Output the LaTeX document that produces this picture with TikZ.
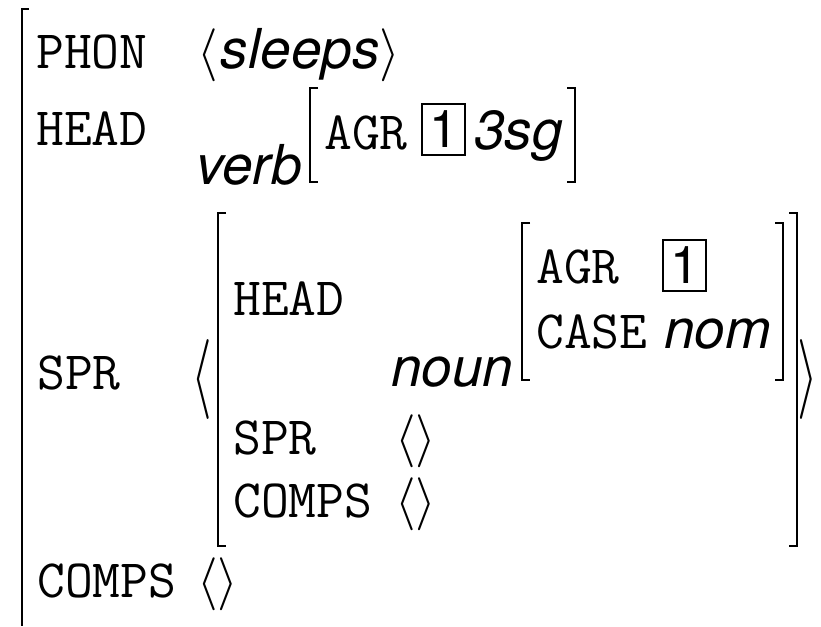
\documentclass[tikz,border=0pt]{standalone}
\usepackage{graphicx}
\usepackage{fontspec}
\newfontfamily\hv{TeX Gyre Heros}
\newcommand{\la}{\scalebox{5.3}{\fontsize{10}{12}\selectfont$\langle$}}
\newcommand{\ra}{\scalebox{5.3}{\fontsize{10}{12}\selectfont$\rangle$}}
\newcommand{\bla}{\scalebox{5.3}[8]{\fontsize{10}{12}\selectfont$\langle$}}
\newcommand{\bra}{\scalebox{5.3}[8]{\fontsize{10}{12}\selectfont$\rangle$}}
\tikzset{
  tt/.style={anchor=base west, inner sep=0pt, font=\fontsize{54}{60}\selectfont\ttfamily},
  sv/.style={anchor=base west, inner sep=0pt, font=\fontsize{55}{60}\selectfont\hv\itshape},
  ang/.style={anchor=base west, inner sep=0pt, font=\fontsize{55}{60}\selectfont\hv\itshape},
  bigang/.style={anchor=center, inner sep=0pt},
  br/.style={line width=1.3pt},
  tagbox/.style={draw, line width=1.6pt, inner sep=0pt, minimum width=43pt, minimum height=51pt, font=\fontsize{52}{60}\selectfont\hv},
}
\begin{document}
\begin{tikzpicture}[x=1pt,y=-1pt]
\useasboundingbox (0,0) rectangle (821,626);
% outer bracket (cut off)
\coordinate (o1) at (29,9);
\coordinate (o2) at (22,9);
\coordinate (o3) at (22,626);
\draw[br] (o1) -- (o2) -- (o3);
% PHON
\node[tt] (phon) at (36,68) {PHON};
\node[ang] (phonv) at (197,68) {\la\kern3pt sleeps\ra};
% HEAD
\node[tt] (head) at (36,145) {HEAD};
\node[sv] (verb) at (196,184) {verb};
\coordinate (va) at (318,88);
\coordinate (vb) at (310,88);
\coordinate (vc) at (310,182);
\coordinate (vd) at (318,182);
\draw[br] (va) -- (vb) -- (vc) -- (vd);
\node[tt] (agr) at (324,149) {AGR};
\node[tagbox] (tag1) at (443.5,129.5) {1};
\node[sv] (tsg) at (474,149) {3sg};
\coordinate (ve) at (567,88);
\coordinate (vf) at (575,88);
\coordinate (vg) at (575,182);
\coordinate (vh) at (567,182);
\draw[br] (ve) -- (vf) -- (vg) -- (vh);
% SPR
\node[tt] (spr) at (37,389) {SPR};
\node[bigang] (lang) at (202,379) {\bla};
\coordinate (sa) at (226,213);
\coordinate (sb) at (218,213);
\coordinate (sc) at (218,546);
\coordinate (sd) at (226,546);
\draw[br] (sa) -- (sb) -- (sc) -- (sd);
\coordinate (se) at (789,213);
\coordinate (sf) at (797,213);
\coordinate (sg) at (797,546);
\coordinate (sh) at (789,546);
\draw[br] (se) -- (sf) -- (sg) -- (sh);
\node[bigang] (rang) at (808,379) {\bra};
\node[tt] (ihead) at (233,315) {HEAD};
\node[sv] (noun) at (391,386) {noun};
\coordinate (na) at (530,223);
\coordinate (nb) at (522,223);
\coordinate (nc) at (522,380);
\coordinate (nd) at (530,380);
\draw[br] (na) -- (nb) -- (nc) -- (nd);
\node[tt] (nagr) at (536,283) {AGR};
\node[tagbox] (tag2) at (684.5,265.5) {1};
\node[tt] (ncase) at (536,348) {CASE};
\node[sv] (nom) at (664,348) {nom};
\coordinate (ne) at (775,223);
\coordinate (nf) at (783,223);
\coordinate (ng) at (783,380);
\coordinate (nh) at (775,380);
\draw[br] (ne) -- (nf) -- (ng) -- (nh);
\node[tt] (ispr) at (233,454) {SPR};
\node[ang] (isprv) at (395,454) {\la\ra};
\node[tt] (icomps) at (233,517) {COMPS};
\node[ang] (icompsv) at (395,517) {\la\ra};
% COMPS
\node[tt] (comps) at (37,597) {COMPS};
\node[ang] (compsv) at (197,597) {\la\ra};
\end{tikzpicture}
\end{document}
